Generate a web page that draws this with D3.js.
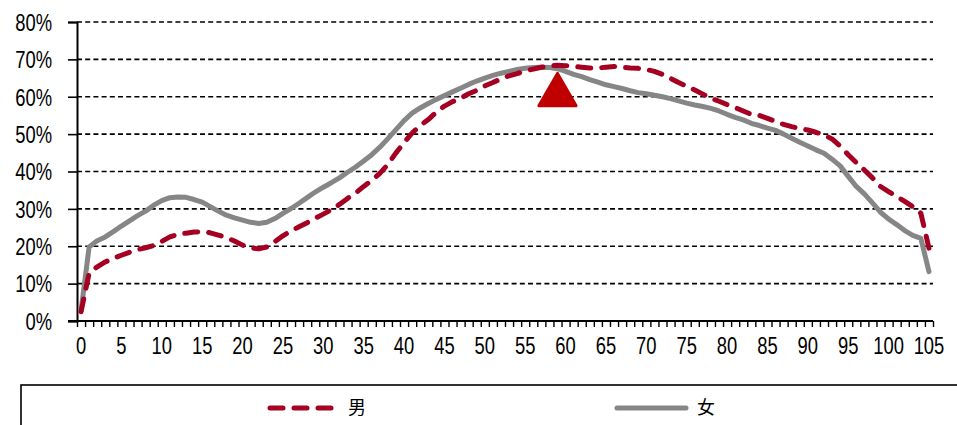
<!DOCTYPE html>
<html>
<head>
<meta charset="utf-8">
<script src="https://cdn.jsdelivr.net/npm/d3@7"></script>
<style>
  body { margin: 0; background: #fff; }
  svg { display: block; }
</style>
</head>
<body>
<svg id="chart" width="957" height="425"></svg>
<script>
// Ages 0..105 (category axis)
const ages = d3.range(0, 106);

// Share by age, percent
const male = [
  2.5, 12.8, 14.5, 15.8, 16.8, 17.6, 18.4, 19.1, 19.6, 20.2,
  21.3, 22.5, 23.2, 23.5, 23.8, 23.9, 23.6, 23.0, 22.3, 21.4,
  20.3, 19.6, 19.3, 19.8, 21.2, 22.8, 24.1, 25.2, 26.3, 27.5,
  28.6, 29.8, 31.2, 32.8, 34.2, 36.0, 37.6, 39.5, 41.9, 45.0,
  47.7, 50.3, 52.3, 53.9, 55.9, 57.5, 58.7, 59.6, 60.8, 61.7,
  62.9, 63.8, 64.8, 65.6, 66.2, 66.9, 67.4, 67.9, 68.3, 68.4,
  68.3, 68.1, 67.9, 67.7, 67.7, 67.9, 68.1, 67.9, 67.7, 67.6,
  67.3, 66.8, 66.0, 64.9, 63.8, 62.8, 61.8, 60.7, 59.6, 58.8,
  57.9, 57.1, 56.2, 55.3, 55.0, 54.2, 53.4, 52.6, 52.0, 51.5,
  51.1, 50.5, 49.8, 48.7, 46.8, 44.5, 42.4, 40.4, 38.3, 36.0,
  34.6, 33.3, 32.0, 30.6, 28.8, 19.5
];
const female = [
  2.7, 19.8, 21.5, 22.5, 23.9, 25.4, 26.8, 28.2, 29.4, 31.0,
  32.2, 33.0, 33.2, 33.1, 32.5, 31.8, 30.6, 29.4, 28.3, 27.6,
  27.0, 26.4, 26.1, 26.4, 27.4, 28.8, 30.1, 31.5, 33.0, 34.5,
  35.8, 37.0, 38.3, 39.8, 41.2, 42.8, 44.5, 46.5, 48.8, 51.2,
  53.6, 55.6, 57.0, 58.2, 59.3, 60.3, 61.3, 62.3, 63.3, 64.2,
  65.0, 65.7, 66.3, 66.8, 67.3, 67.6, 67.8, 67.9, 67.8, 67.5,
  66.8, 66.0, 65.4, 64.6, 63.9, 63.2, 62.7, 62.2, 61.6, 61.1,
  60.8, 60.4, 60.0, 59.5, 58.9, 58.3, 57.8, 57.4, 56.9, 56.2,
  55.3, 54.5, 53.8, 52.9, 52.3, 51.6, 51.0, 50.0, 48.9, 47.8,
  46.8, 45.8, 44.9, 43.3, 41.5, 38.7, 36.0, 34.0, 31.6, 29.1,
  27.3, 25.8, 24.2, 22.9, 22.1, 13.2
];

const seriesNames = ["男", "女"];
const yTicks = [0, 10, 20, 30, 40, 50, 60, 70, 80];
const xLabelAges = [0, 5, 10, 15, 20, 25, 30, 35, 40, 45, 50, 55, 60, 65, 70, 75, 80, 85, 90, 95, 100, 105];
const peakMarker = [{ age: 59, value: 60.5 }];

// Styles
const MALE_COLOR = "#A50021";
const FEMALE_COLOR = "#868686";
const MARKER_COLOR = "#C00000";
const FONT = "'Liberation Sans', Arial, sans-serif";
const CJK = "'Noto Sans CJK SC', sans-serif";
const NARROW = 0.8;

const svg = d3.select("#chart");
const plot = { left: 77, right: 933, top: 22, bottom: 321 };

const x = d3.scaleBand().domain(ages).range([plot.left, plot.right]).paddingInner(0).paddingOuter(0);
const xEdge = d3.scaleLinear().domain([0, ages.length]).range([plot.left, plot.right]);
const y = d3.scaleLinear().domain([0, 80]).range([plot.bottom, plot.top]);
const cx = a => x(a) + x.bandwidth() / 2;

// Dashed gridlines
svg.append("g")
  .selectAll("line")
  .data(yTicks.filter(t => t > 0))
  .join("line")
  .attr("x1", plot.left).attr("x2", plot.right)
  .attr("y1", d => y(d)).attr("y2", d => y(d))
  .attr("stroke", "#000").attr("stroke-width", 1.6)
  .attr("stroke-dasharray", "5,3.2");

// Y axis
const yAxis = svg.append("g")
  .attr("transform", `translate(${plot.left},0)`)
  .call(d3.axisLeft(y).tickValues(yTicks).tickSize(9).tickPadding(0).tickFormat(d => d + "%"));
yAxis.select(".domain").attr("stroke", "#000").attr("stroke-width", 2);
yAxis.selectAll(".tick line").attr("stroke", "#000").attr("stroke-width", 1.6);
yAxis.selectAll(".tick text")
  .attr("x", 0).attr("dy", "0.36em")
  .attr("transform", `translate(-25,0) scale(${NARROW},1)`)
  .attr("fill", "#000")
  .style("font-family", FONT).style("font-size", "23px");

// X axis: tick marks on category boundaries
const xTicks = svg.append("g")
  .attr("transform", `translate(0,${plot.bottom})`)
  .call(d3.axisBottom(xEdge).tickValues(d3.range(0, ages.length + 1)).tickSize(6).tickFormat(""));
xTicks.select(".domain").remove();
xTicks.selectAll(".tick line").attr("stroke", "#000").attr("stroke-width", 1.4);

// X axis labels at category centres
const xLabels = svg.append("g")
  .attr("transform", `translate(0,${plot.bottom})`)
  .call(d3.axisBottom(x).tickValues(xLabelAges).tickSize(0).tickPadding(0));
xLabels.select(".domain").remove();
xLabels.selectAll(".tick text")
  .attr("y", 0).attr("dy", 0)
  .attr("transform", `translate(0,33) scale(${NARROW},1)`)
  .attr("fill", "#000")
  .style("font-family", FONT).style("font-size", "23px");

// Baseline
svg.append("line")
  .attr("x1", plot.left - 9).attr("x2", plot.right)
  .attr("y1", plot.bottom).attr("y2", plot.bottom)
  .attr("stroke", "#000").attr("stroke-width", 2);

// Series lines
const line = d3.line()
  .x((d, i) => cx(ages[i]))
  .y(d => y(d));

svg.append("path")
  .datum(female)
  .attr("d", line)
  .attr("fill", "none")
  .attr("stroke", FEMALE_COLOR)
  .attr("stroke-width", 5)
  .attr("stroke-linejoin", "round")
  .attr("stroke-linecap", "round");

svg.append("path")
  .datum(male)
  .attr("d", line)
  .attr("fill", "none")
  .attr("stroke", MALE_COLOR)
  .attr("stroke-width", 5)
  .attr("stroke-dasharray", "13,11")
  .attr("stroke-linejoin", "round")
  .attr("stroke-linecap", "round");

// Peak marker
svg.append("g")
  .selectAll("path")
  .data(peakMarker)
  .join("path")
  .attr("transform", d => `translate(${cx(d.age)},${y(d.value)})`)
  .attr("d", d3.symbol(d3.symbolTriangle, 600))
  .attr("fill", MARKER_COLOR)
  .attr("stroke", MARKER_COLOR)
  .attr("stroke-width", 3)
  .attr("stroke-linejoin", "round");

// Legend
const legend = svg.append("g");
legend.append("rect")
  .attr("x", 21).attr("y", 385)
  .attr("width", 960).attr("height", 60)
  .attr("fill", "#fff")
  .attr("stroke", "#000").attr("stroke-width", 1.6);

const legendItems = [
  { name: seriesNames[0], color: MALE_COLOR, dash: "13,11", x1: 270, x2: 331, tx: 348 },
  { name: seriesNames[1], color: FEMALE_COLOR, dash: null, x1: 617, x2: 686, tx: 697 }
];
const li = legend.selectAll("g.item").data(legendItems).join("g").attr("class", "item");
li.append("line")
  .attr("x1", d => d.x1).attr("x2", d => d.x2)
  .attr("y1", 408).attr("y2", 408)
  .attr("stroke", d => d.color)
  .attr("stroke-width", 5)
  .attr("stroke-linecap", "round")
  .attr("stroke-dasharray", d => d.dash);
li.append("text")
  .attr("x", d => d.tx).attr("y", 408).attr("dy", "0.36em")
  .text(d => d.name)
  .attr("fill", "#000")
  .style("font-family", CJK).style("font-size", "18px");
</script>
</body>
</html>
